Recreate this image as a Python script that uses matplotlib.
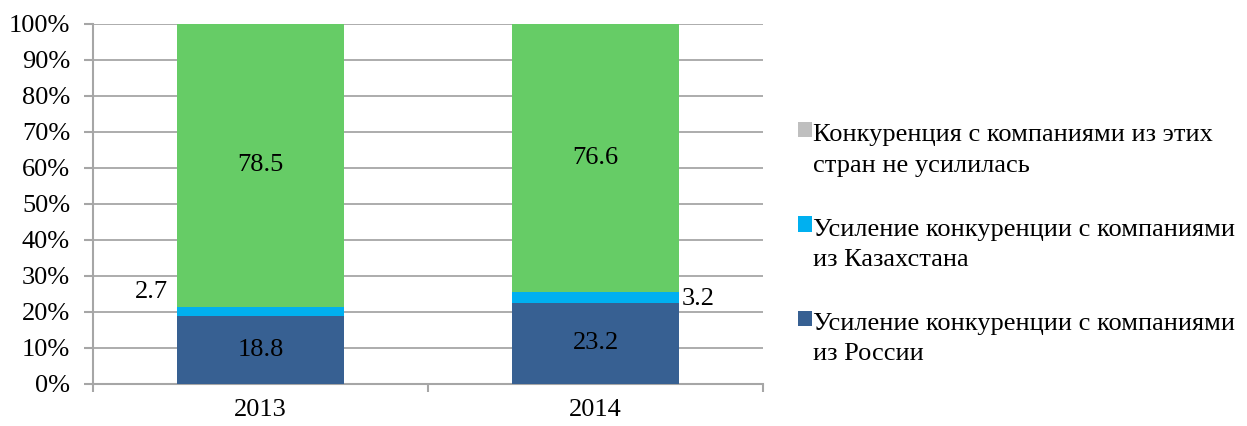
import numpy as np
import matplotlib
matplotlib.use("Agg")
import matplotlib.pyplot as plt
from matplotlib.patches import Patch, Rectangle
from matplotlib.legend_handler import HandlerPatch

plt.rcParams["font.family"] = ["Liberation Serif", "DejaVu Serif"]

YEARS = ["2013", "2014"]
RUSSIA = [18.8, 23.2]
KAZAKH = [2.7, 3.2]
NO_CHANGE = [78.5, 76.6]

LABELS = [
    "Усиление конкуренции с компаниями\nиз России",
    "Усиление конкуренции с компаниями\nиз Казахстана",
    "Конкуренция с компаниями из этих\nстран не усилилась",
]
COLORS = ["#376092", "#00b0f0", "#66cc66"]
LEGEND_COLORS = ["#376092", "#00b0f0", "#bfbfbf"]
GRID = "#a6a6a6"
FS = 19
SQUARE_LIFT = 14.5   # pt, puts the legend square on the first text line


def _square(legend, orig_handle, xdescent, ydescent, width, height, fontsize):
    # legend aligns handles to the last text line; lift to the first one
    return Rectangle((-xdescent, -ydescent + SQUARE_LIFT), width, height)


series = np.array([RUSSIA, KAZAKH, NO_CHANGE], dtype=float)
shares = series / series.sum(axis=0) * 100   # 100% stacked

fig = plt.figure(figsize=(12.47, 4.26), dpi=100)
ax = fig.add_axes([0.0746, 0.0986, 0.5373, 0.8451])

x = np.arange(len(YEARS))
width = 0.5
bottom = np.zeros(len(YEARS))
for vals, col in zip(shares, COLORS):
    ax.bar(x, vals, width, bottom=bottom, color=col, zorder=3)
    bottom += vals

# value labels inside the bars
base = shares[0]
for i in range(len(YEARS)):
    ax.text(x[i], base[i] / 2, f"{RUSSIA[i]:g}", ha="center", va="center",
            fontsize=FS, zorder=4)
    top = base[i] + shares[1][i]
    ax.text(x[i], top + shares[2][i] / 2, f"{NO_CHANGE[i]:g}", ha="center",
            va="center", fontsize=FS, zorder=4)
# Kazakhstan labels sit outside the bars
ax.text(x[0] - width / 2 - 0.027, 25.5, f"{KAZAKH[0]:g}", ha="right",
        va="center", fontsize=FS)
ax.text(x[1] + width / 2 + 0.006, base[1] + shares[1][1] / 2 - 0.5,
        f"{KAZAKH[1]:g}", ha="left", va="center", fontsize=FS)

ax.set_xlim(-0.5, len(YEARS) - 0.5)
ax.set_ylim(0, 100)
ax.set_yticks(np.arange(0, 101, 10))
ax.set_yticklabels([f"{v}%" for v in range(0, 101, 10)])
ax.set_xticks(x)
ax.set_xticklabels(YEARS)
ax.set_xticks(np.arange(-0.5, len(YEARS), 1), minor=True)
ax.tick_params(axis="x", which="major", length=0, labelsize=FS, pad=11)
ax.tick_params(axis="x", which="minor", length=6, color=GRID, width=1.5)
ax.tick_params(axis="y", length=6.5, color=GRID, width=1.5, labelsize=FS,
               pad=10)
ax.yaxis.grid(True, color=GRID, linewidth=1.3, zorder=0)
ax.set_axisbelow(True)
for side in ("top", "right"):
    ax.spines[side].set_visible(False)
for side in ("left", "bottom"):
    ax.spines[side].set_color(GRID)
    ax.spines[side].set_linewidth(1.5)

handles = [Patch(facecolor=c, edgecolor="none") for c in LEGEND_COLORS]
leg = fig.legend(handles[::-1], LABELS[::-1], loc="center left",
                 bbox_to_anchor=(0.629, 0.425), frameon=False, fontsize=FS,
                 borderpad=0, handlelength=0.53, handleheight=0.53,
                 handletextpad=0.05, labelspacing=1.6,
                 handler_map={Patch: HandlerPatch(patch_func=_square)})
for t in leg.get_texts():
    t.set_linespacing(1.48)

fig.savefig("out.png", dpi=100)
